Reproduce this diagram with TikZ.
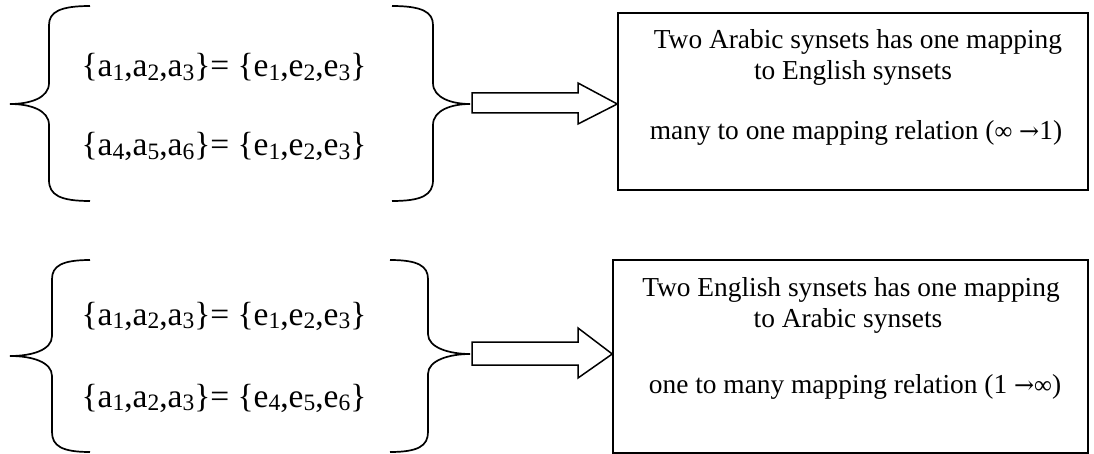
\documentclass[tikz,border=0pt]{standalone}
\usepackage{fontspec}
\setmainfont{Liberation Serif}
\newfontfamily\arrowfont{DejaVu Serif}
\newcommand{\sbx}[1]{\raisebox{-0.2ex}{\fontsize{23.5}{23.5}\selectfont #1}}
\newcommand{\myrarr}{{\arrowfont\fontsize{24}{24}\selectfont →}}
\newcommand{\myinf}{{\fontsize{25}{25}\selectfont ∞}}
\begin{document}
\begin{tikzpicture}[x=1pt,y=-1pt,
  brace/.style={line width=1.7pt},
  boxline/.style={draw,line width=1.5pt},
  blockarrow/.style={draw,line width=1.5pt,line join=miter,fill=white},
  eqtext/.style={anchor=base,inner sep=0pt,font=\fontsize{33.5}{33.5}\selectfont},
  boxtext/.style={anchor=base,inner sep=0pt,font=\fontsize{27.4}{27.4}\selectfont}]
\useasboundingbox (0,0) rectangle (1094,454);

% ---------- top group ----------
\coordinate (ltip1) at (10,104);
\coordinate (rtip1) at (470,104);
\draw[brace] (90,6) .. controls (60,6) and (49,12) .. (49,25) -- (49,83)
  .. controls (49,98) and (30,104) .. (ltip1)
  .. controls (30,104) and (49,110) .. (49,125) -- (49,180)
  .. controls (49,195) and (60,201) .. (90,201);
\draw[brace] (392,6) .. controls (422,6) and (433,12) .. (433,25) -- (433,83)
  .. controls (433,98) and (452,104) .. (rtip1)
  .. controls (452,104) and (433,110) .. (433,125) -- (433,180)
  .. controls (433,195) and (422,201) .. (392,201);
\node[eqtext] (eq1) at (224,77) {\{a\sbx{1},a\sbx{2},a\sbx{3}\}= \{e\sbx{1},e\sbx{2},e\sbx{3}\}};
\node[eqtext] (eq2) at (224,156) {\{a\sbx{4},a\sbx{5},a\sbx{6}\}= \{e\sbx{1},e\sbx{2},e\sbx{3}\}};

\node[boxline,inner sep=0pt,minimum width=470pt,minimum height=177pt] (box1) at (853,101.5) {};
\draw[blockarrow] (472,93) -- (578,93) -- (578,83) -- (box1.west|-rtip1) -- (578,124) -- (578,113) -- (472,113) -- cycle;
\node[boxtext] (t11) at (858,49) {Two Arabic synsets has one mapping};
\node[boxtext] (t12) at (853,80) {to English synsets};
\node[boxtext] (t13) at (856,140) {many to one mapping relation (\myinf\ \myrarr1)};

% ---------- bottom group ----------
\coordinate (ltip2) at (10,356);
\coordinate (rtip2) at (470,354);
\draw[brace] (90,260) .. controls (62,260) and (52,266) .. (52,279) -- (52,336)
  .. controls (52,350) and (32,356) .. (ltip2)
  .. controls (32,356) and (52,362) .. (52,376) -- (52,432)
  .. controls (52,446) and (62,452) .. (90,452);
\draw[brace] (390,260) .. controls (418,260) and (428,266) .. (428,279) -- (428,334)
  .. controls (428,348) and (450,354) .. (rtip2)
  .. controls (450,354) and (428,360) .. (428,374) -- (428,432)
  .. controls (428,446) and (418,452) .. (390,452);
\node[eqtext] (eq3) at (224,325) {\{a\sbx{1},a\sbx{2},a\sbx{3}\}= \{e\sbx{1},e\sbx{2},e\sbx{3}\}};
\node[eqtext] (eq4) at (224,407) {\{a\sbx{1},a\sbx{2},a\sbx{3}\}= \{e\sbx{4},e\sbx{5},e\sbx{6}\}};

\node[boxline,inner sep=0pt,minimum width=475pt,minimum height=193pt] (box2) at (850.5,356.5) {};
\draw[blockarrow] (472,342) -- (578,342) -- (578,328) -- (box2.west|-rtip2) -- (578,378) -- (578,365) -- (472,365) -- cycle;
\node[boxtext] (t21) at (851,296) {Two English synsets has one mapping};
\node[boxtext] (t22) at (848,327) {to Arabic synsets};
\node[boxtext] (t23) at (855,393) {one to many mapping relation (1 \myrarr\myinf)};
\end{tikzpicture}
\end{document}
